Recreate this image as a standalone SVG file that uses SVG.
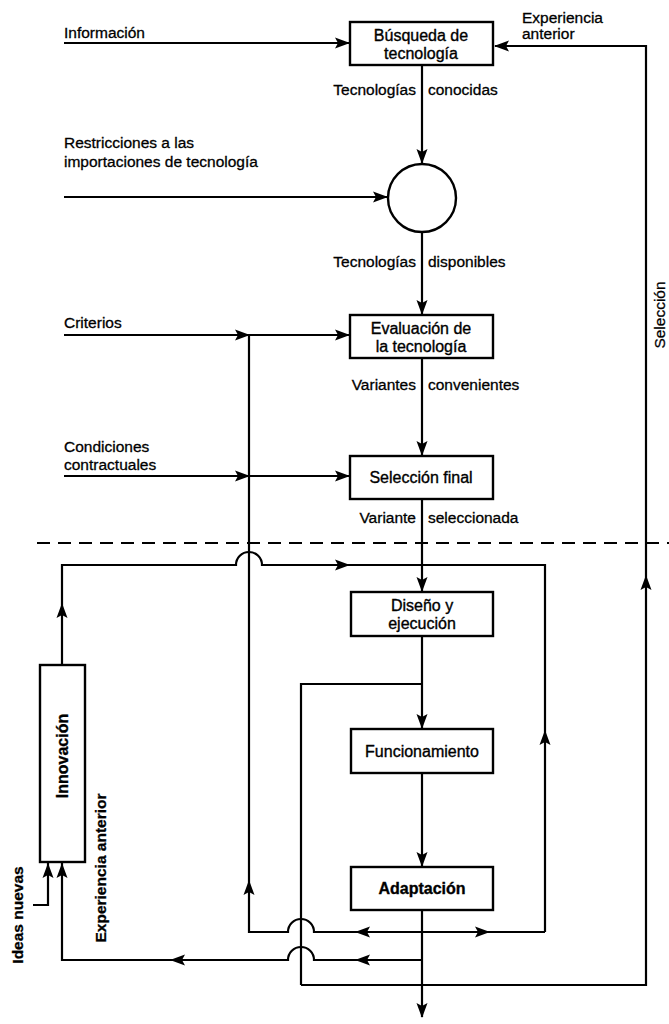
<svg xmlns="http://www.w3.org/2000/svg" xmlns:xlink="http://www.w3.org/1999/xlink" width="669" height="1024" viewBox="0 0 669 1024">
<style>
  .box { fill: #fff; stroke: #000; stroke-width: 2.4; }
  .ln { fill: none; stroke: #000; stroke-width: 2.2; }
  .dash { fill: none; stroke: #000; stroke-width: 2.2; stroke-dasharray: 13 8; }
  .t { font-family: "Liberation Sans", Arial, sans-serif; font-size: 15.5px; fill: #000; stroke: #000; stroke-width: 0.3; }
  .bt { font-family: "Liberation Sans", Arial, sans-serif; font-size: 16px; fill: #000; stroke: #000; stroke-width: 0.35; text-anchor: middle; }
  .r { text-anchor: end; }
  .ah { fill: #000; }
</style>
<defs>
  <path id="ah" class="ah" d="M0,0 L-15,-5.5 L-12,0 L-15,5.5 Z"/>
</defs>

<g id="connectors">
  <path class="dash" d="M37,543 H669"/>
  <path class="ln" d="M64,43 H349"/>
  <use href="#ah" transform="translate(350,43)"/>
  <path class="ln" d="M301,985 H646 V46 H495"/>
  <use href="#ah" transform="translate(494,46) rotate(180)"/>
  <use href="#ah" transform="translate(646,575) rotate(-90)"/>
  <path class="ln" d="M422,65 V163"/>
  <use href="#ah" transform="translate(422,164) rotate(90)"/>
  <path class="ln" d="M64,197 H387"/>
  <use href="#ah" transform="translate(388,197)"/>
  <path class="ln" d="M422,232 V314"/>
  <use href="#ah" transform="translate(422,315) rotate(90)"/>
  <path class="ln" d="M64,335 H349"/>
  <use href="#ah" transform="translate(250,335)"/>
  <use href="#ah" transform="translate(350,335)"/>
  <path class="ln" d="M422,358 V455"/>
  <use href="#ah" transform="translate(422,456) rotate(90)"/>
  <path class="ln" d="M64,476 H349"/>
  <use href="#ah" transform="translate(250,476)"/>
  <use href="#ah" transform="translate(350,476)"/>
  <path class="ln" d="M422,499 V591"/>
  <use href="#ah" transform="translate(422,592) rotate(90)"/>
  <path class="ln" d="M62,665 V565 H236 A13,13 0 0 1 262,565 H545 V932"/>
  <use href="#ah" transform="translate(62,603) rotate(-90)"/>
  <use href="#ah" transform="translate(350,565)"/>
  <use href="#ah" transform="translate(545,730) rotate(-90)"/>
  <path class="ln" d="M422,636 V728"/>
  <use href="#ah" transform="translate(422,729) rotate(90)"/>
  <path class="ln" d="M422,684 H301 V985"/>
  <path class="ln" d="M422,773 V866"/>
  <use href="#ah" transform="translate(422,867) rotate(90)"/>
  <path class="ln" d="M422,910 V1017"/>
  <use href="#ah" transform="translate(422,1018) rotate(90)"/>
  <path class="ln" d="M545,932 H314 A13,13 0 0 0 288,932 H249 V335"/>
  <use href="#ah" transform="translate(355,932) rotate(180)"/>
  <use href="#ah" transform="translate(490,932)"/>
  <use href="#ah" transform="translate(249,880) rotate(-90)"/>
  <path class="ln" d="M422,960 H314 A13,13 0 0 0 288,960 H62 V863"/>
  <use href="#ah" transform="translate(355,960) rotate(180)"/>
  <use href="#ah" transform="translate(170,960) rotate(180)"/>
  <use href="#ah" transform="translate(62,863) rotate(-90)"/>
  <path class="ln" d="M33,905 H48 V863"/>
  <use href="#ah" transform="translate(48,863) rotate(-90)"/>
</g>

<g id="busqueda">
  <rect class="box" x="350" y="22" width="143" height="43"/>
  <text class="bt" x="421" y="41">Búsqueda de</text>
  <text class="bt" x="421" y="59">tecnología</text>
</g>
<g id="filtro">
  <circle class="box" cx="422" cy="198" r="34"/>
</g>
<g id="evaluacion">
  <rect class="box" x="350" y="315" width="143" height="43"/>
  <text class="bt" x="421" y="334">Evaluación de</text>
  <text class="bt" x="421" y="352">la tecnología</text>
</g>
<g id="seleccion-final">
  <rect class="box" x="350" y="456" width="143" height="43"/>
  <text class="bt" x="421" y="483">Selección final</text>
</g>
<g id="diseno">
  <rect class="box" x="351" y="592" width="142" height="44"/>
  <text class="bt" x="422" y="611">Diseño y</text>
  <text class="bt" x="422" y="629">ejecución</text>
</g>
<g id="funcionamiento">
  <rect class="box" x="351" y="729" width="142" height="44"/>
  <text class="bt" x="422" y="757" font-size="17">Funcionamiento</text>
</g>
<g id="adaptacion">
  <rect class="box" x="351" y="867" width="142" height="43"/>
  <text class="bt" x="422" y="894" font-weight="bold">Adaptación</text>
</g>
<g id="innovacion">
  <rect class="box" x="40" y="665" width="45" height="197"/>
  <text class="bt" font-weight="bold" transform="translate(68,756) rotate(-90)">Innovación</text>
</g>

<g id="labels">
  <text class="t" x="64" y="38">Información</text>
  <text class="t" x="522" y="23">Experiencia</text>
  <text class="t" x="522" y="39">anterior</text>
  <text class="t" x="64" y="148">Restricciones a las</text>
  <text class="t" x="64" y="167">importaciones de tecnología</text>
  <text class="t r" x="416" y="95">Tecnologías</text>
  <text class="t" x="428" y="95">conocidas</text>
  <text class="t r" x="416" y="267">Tecnologías</text>
  <text class="t" x="428" y="267">disponibles</text>
  <text class="t" x="64" y="328">Criterios</text>
  <text class="t r" x="416" y="390">Variantes</text>
  <text class="t" x="428" y="390">convenientes</text>
  <text class="t" x="64" y="452">Condiciones</text>
  <text class="t" x="64" y="470">contractuales</text>
  <text class="t r" x="416" y="523">Variante</text>
  <text class="t" x="428" y="523">seleccionada</text>
  <text class="t" text-anchor="middle" transform="translate(665,315) rotate(-90)">Selección</text>
  <text class="t" text-anchor="middle" font-weight="bold" transform="translate(106,868) rotate(-90)">Experiencia anterior</text>
  <text class="t" text-anchor="middle" font-weight="bold" transform="translate(23,915) rotate(-90)">Ideas nuevas</text>
</g>
</svg>
